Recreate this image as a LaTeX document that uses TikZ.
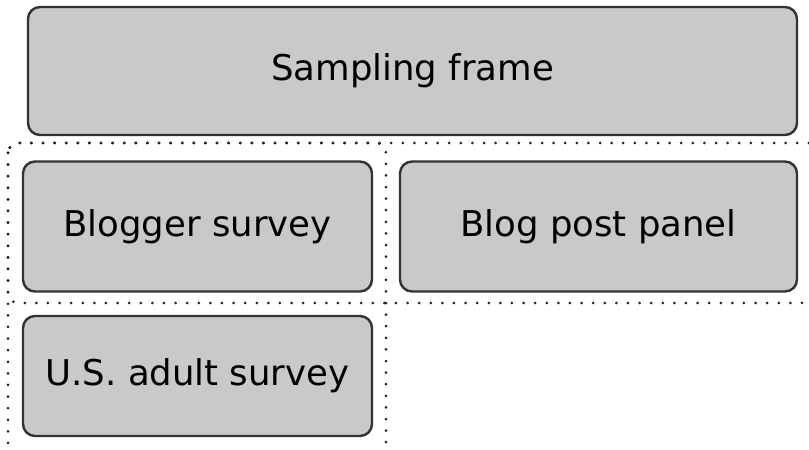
\documentclass[tikz,border=0pt]{standalone}
\usepackage{fontspec}
\setmainfont{DejaVu Sans}
\usetikzlibrary{positioning}

\begin{document}
\begin{tikzpicture}[x=1pt, y=1pt]
            \tikzstyle{box} = [draw=black!80, line width=2.4pt, fill=black!21, rounded corners=12pt, font=\fontsize{35.5}{42}\selectfont]
            \tikzstyle{group} = [black!85, line width=3pt, line cap=round, dash pattern=on 0pt off 11.6pt, rounded corners=10pt]
            \useasboundingbox (0, 0) rectangle (809, 450);
            \clip (0, 0) rectangle (809, 450);
            \node[box, minimum width=769pt, minimum height=128pt] (frame) at (412.5, 379) {Sampling frame};
            \node[box, minimum width=349pt, minimum height=130pt] (blogger) at (197.5, 223.5) {Blogger survey};
            \node[box, minimum width=397pt, minimum height=130pt] (panel) at (598.5, 223.5) {Blog post panel};
            \node[box, minimum width=349pt, minimum height=120pt] (adult) at (197.5, 74) {U.S. adult survey};
            \draw[group] (8, 307) rectangle (386, -40);
            \draw[group] (8, 307) rectangle (840, 147);
        \end{tikzpicture}
\end{document}
